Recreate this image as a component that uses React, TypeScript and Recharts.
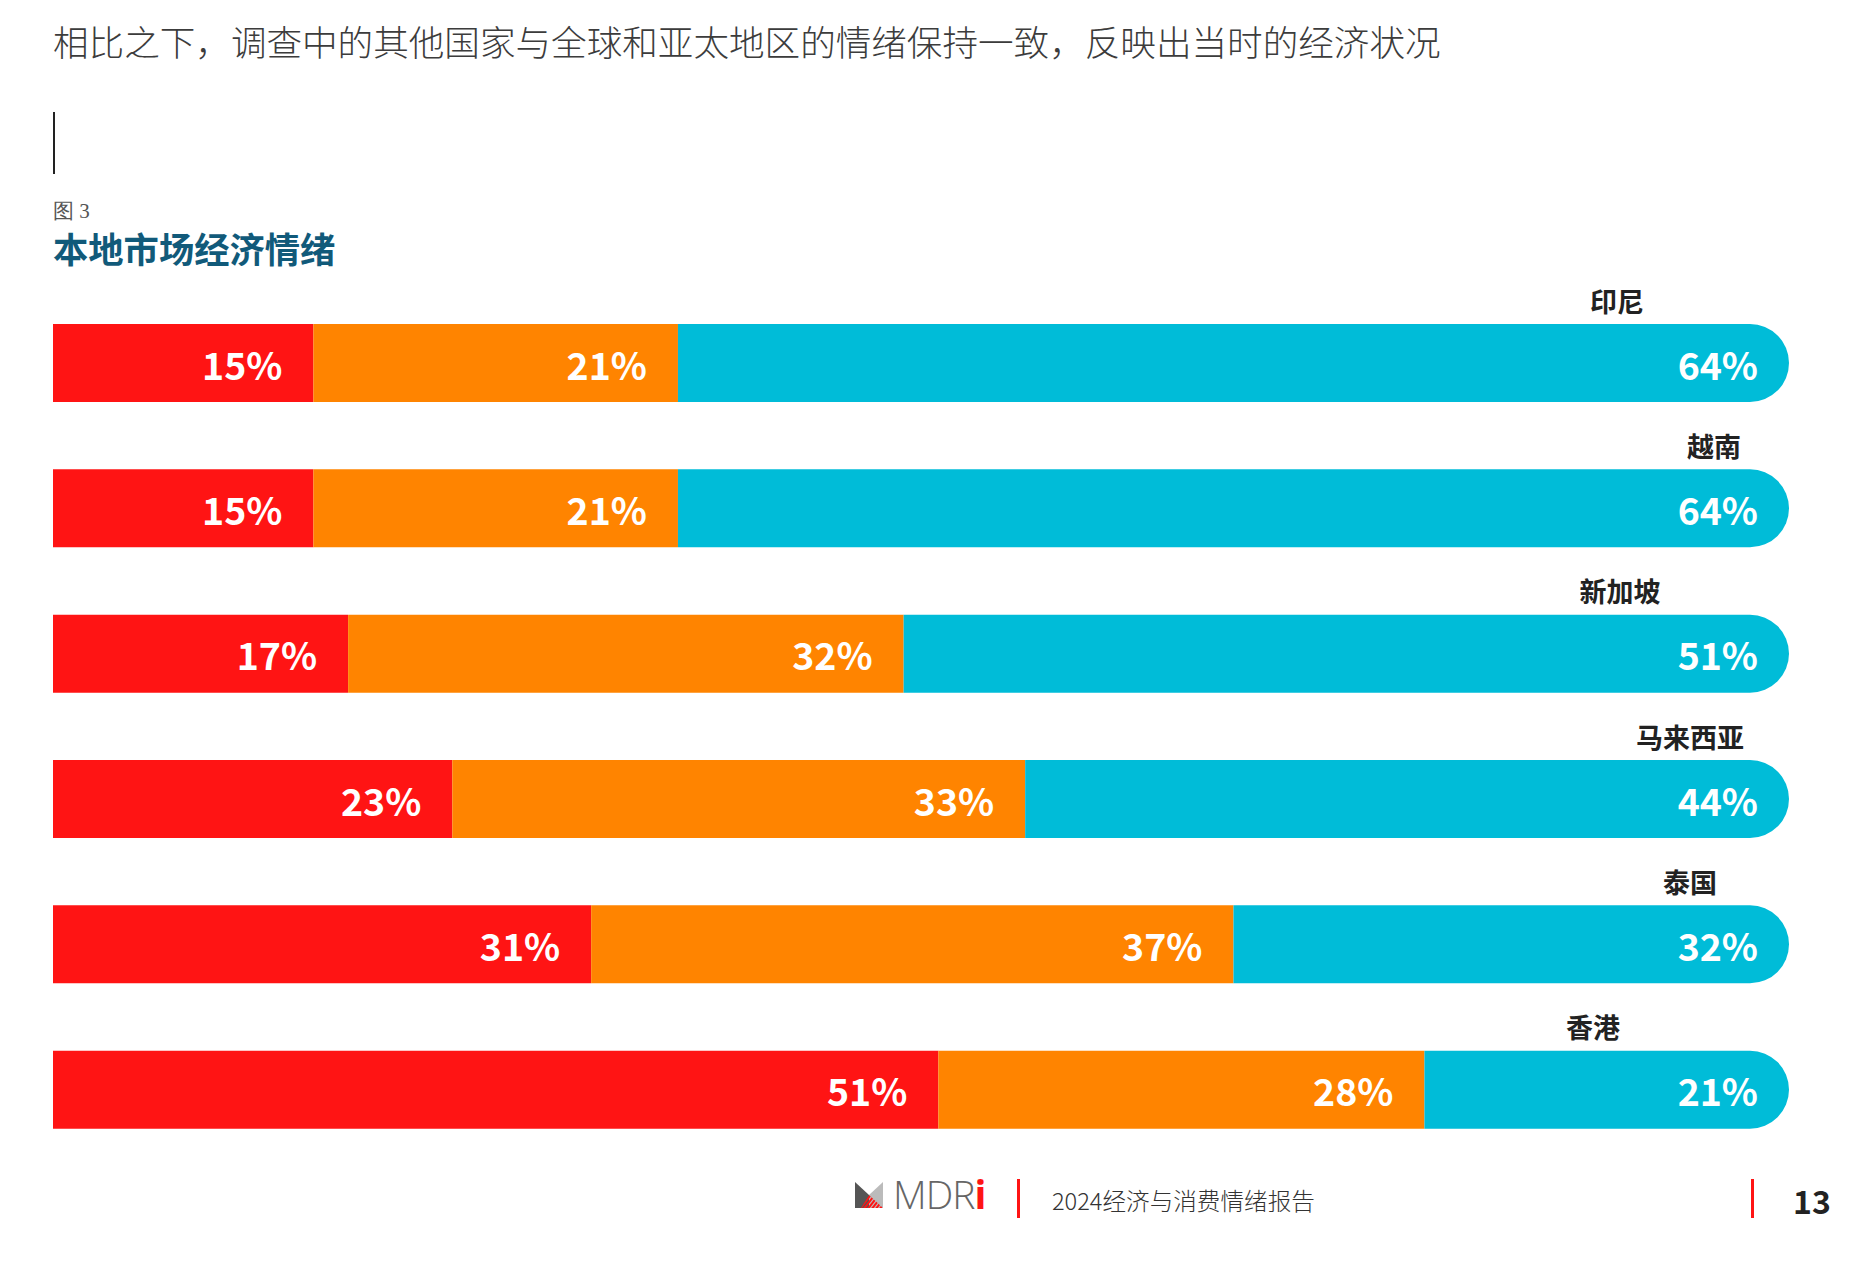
import { BarChart, Bar, XAxis, YAxis, LabelList } from 'recharts';

const markets = ['印尼', '越南', '新加坡', '马来西亚', '泰国', '香港'];
const pessimistic = [15, 15, 17, 23, 31, 51];
const neutral = [21, 21, 32, 33, 37, 28];
const optimistic = [64, 64, 51, 44, 32, 21];

// where each market name sits above its bar (centre x, chart px)
const nameCenterX = [1564, 1661, 1567, 1637, 1637, 1540];

const RED = '#ff1414';
const ORANGE = '#ff8400';
const CYAN = '#00bcd8';
const CJK = '"Noto Sans CJK SC", "Noto Sans", sans-serif';

const rows = markets.map((name, i) => ({
  name,
  pessimistic: pessimistic[i],
  neutral: neutral[i],
  optimistic: optimistic[i],
}));

const valueLabel = (props: any) => {
  const { x, y, width, height, value } = props;
  return (
    <text
      x={x + width - 31}
      y={y + height / 2}
      textAnchor="end"
      dominantBaseline="central"
      fill="#fff"
      fontFamily={CJK}
      fontWeight={700}
      fontSize={37.5}
    >
      {`${value}%`}
    </text>
  );
};

const nameLabel = (props: any) => {
  const { y, index } = props;
  return (
    <text
      x={nameCenterX[index]}
      y={y - 24}
      textAnchor="middle"
      dominantBaseline="central"
      fill="#222"
      fontFamily={CJK}
      fontWeight={700}
      fontSize={27}
    >
      {markets[index]}
    </text>
  );
};

function Logo() {
  return (
    <svg width={28} height={26} viewBox="0 0 28 26" style={{ display: 'block' }}>
      <defs>
        <clipPath id="stripes">
          <polygon points="6,26 14,13 28,26" />
        </clipPath>
      </defs>
      <polygon points="0,0 14,13 14,26 0,26" fill="#555" />
      <polygon points="28,0 28,26 14,26 14,13" fill="#bbb" />
      <g clipPath="url(#stripes)" stroke={RED} strokeWidth={2}>
        {[0, 4, 8, 12, 16, 20, 24, 28].map((d) => (
          <line key={d} x1={d} y1={28} x2={d + 14} y2={10} />
        ))}
      </g>
    </svg>
  );
}

export default function App() {
  return (
    <div
      style={{
        position: 'absolute',
        left: 0,
        top: 0,
        width: 1852,
        height: 1276,
        background: '#fff',
        fontFamily: CJK,
        overflow: 'hidden',
      }}
    >
      <div
        style={{
          position: 'absolute',
          left: 53,
          top: 20,
          fontSize: 35.6,
          fontWeight: 300,
          color: '#3c3c3c',
          lineHeight: '42px',
          whiteSpace: 'nowrap',
        }}
      >
        相比之下，调查中的其他国家与全球和亚太地区的情绪保持一致，反映出当时的经济状况
      </div>
      <div
        style={{ position: 'absolute', left: 53, top: 112, width: 2, height: 62, background: '#222' }}
      />
      <div
        style={{
          position: 'absolute',
          left: 53,
          top: 198,
          fontSize: 21,
          fontWeight: 300,
          color: '#555',
          lineHeight: '26px',
          fontFamily: '"Liberation Serif", serif',
        }}
      >
        图 3
      </div>
      <div
        style={{
          position: 'absolute',
          left: 53,
          top: 227,
          fontSize: 35.3,
          fontWeight: 700,
          color: '#115a7a',
          lineHeight: '42px',
          whiteSpace: 'nowrap',
        }}
      >
        本地市场经济情绪
      </div>

      <div style={{ position: 'absolute', left: 53, top: 270 }}>
        <BarChart
          layout="vertical"
          width={1736}
          height={892}
          data={rows}
          margin={{ top: 20, right: 0, bottom: 0, left: 0 }}
        >
          <XAxis type="number" domain={[0, 100]} hide />
          <YAxis type="category" dataKey="name" hide />
          <Bar dataKey="pessimistic" stackId="s" fill={RED} barSize={78} isAnimationActive={false}>
            <LabelList dataKey="pessimistic" content={valueLabel} />
          </Bar>
          <Bar dataKey="neutral" stackId="s" fill={ORANGE} barSize={78} isAnimationActive={false}>
            <LabelList dataKey="neutral" content={valueLabel} />
          </Bar>
          <Bar
            dataKey="optimistic"
            stackId="s"
            fill={CYAN}
            barSize={78}
            radius={[0, 39, 39, 0]}
            isAnimationActive={false}
          >
            <LabelList dataKey="optimistic" content={valueLabel} />
            <LabelList dataKey="name" content={nameLabel} />
          </Bar>
        </BarChart>
      </div>

      {/* footer */}
      <div style={{ position: 'absolute', left: 855, top: 1182 }}>
        <Logo />
      </div>
      <div
        style={{
          position: 'absolute',
          left: 893,
          top: 1171,
          fontSize: 39,
          fontWeight: 200,
          color: '#666',
          lineHeight: '46px',
          fontFamily: '"Open Sans", "Noto Sans", sans-serif',
          letterSpacing: -1,
        }}
      >
        MDR<span style={{ color: RED, fontWeight: 700 }}>i</span>
      </div>
      <div style={{ position: 'absolute', left: 1017, top: 1179, width: 3, height: 39, background: RED }} />
      <div
        style={{
          position: 'absolute',
          left: 1052,
          top: 1185,
          fontSize: 23.6,
          fontWeight: 300,
          color: '#333',
          lineHeight: '30px',
          whiteSpace: 'nowrap',
        }}
      >
        2024经济与消费情绪报告
      </div>
      <div style={{ position: 'absolute', left: 1751, top: 1179, width: 3, height: 39, background: RED }} />
      <div
        style={{
          position: 'absolute',
          left: 1793,
          top: 1181,
          fontSize: 32,
          fontWeight: 700,
          color: '#222',
          lineHeight: '38px',
        }}
      >
        13
      </div>
    </div>
  );
}
